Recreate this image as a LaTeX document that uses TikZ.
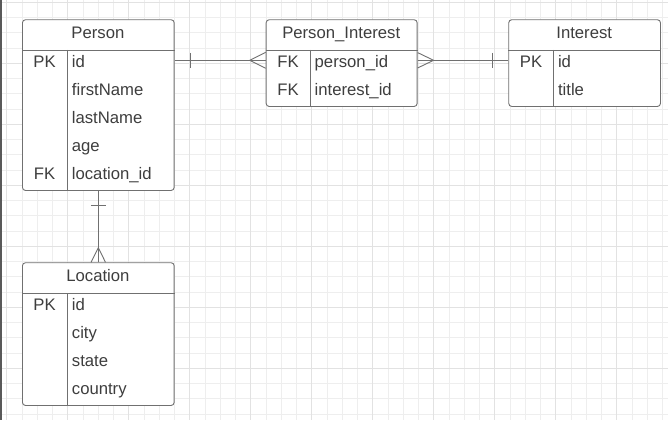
\documentclass[tikz,border=0pt]{standalone}
\usepackage{fontspec}
\setmainfont{Liberation Sans}
\usepackage{xcolor}
\usepackage{tikz}
\usetikzlibrary{calc}
\definecolor{gridminor}{RGB}{238,238,238}
\definecolor{gridmajor}{RGB}{226,226,226}
\definecolor{edge}{RGB}{112,112,112}
\definecolor{ink}{RGB}{62,62,62}

\begin{document}
\begin{tikzpicture}[x=1pt, y=-1pt, font=\fontsize{16.7}{20}\selectfont,
  tbl/.style={draw=edge, fill=white, rounded corners=3pt, line width=0.9pt, anchor=north west, inner sep=0pt},
  hd/.style={text=ink, anchor=mid, yshift=-1.5pt},
  key/.style={text=ink, anchor=mid, yshift=-1.5pt},
  fld/.style={text=ink, anchor=mid west, inner sep=0pt, yshift=-1.5pt},
  rel/.style={draw=edge, line width=0.9pt}]
\useasboundingbox[fill=white] (0,0) rectangle (668,420);
% grid paper
\foreach \k in {0,...,43} \draw[gridminor, line width=0.8pt] ({6.7+15.25*\k},0) -- ({6.7+15.25*\k},420);
\foreach \k in {0,...,27} \draw[gridminor, line width=0.8pt] (0,{2.3+15.25*\k}) -- (668,{2.3+15.25*\k});
\foreach \k in {0,4,...,40} \draw[gridmajor, line width=1pt] ({6.7+15.25*\k},0) -- ({6.7+15.25*\k},420);
\foreach \k in {0,4,...,24} \draw[gridmajor, line width=1pt] (0,{2.3+15.25*\k}) -- (668,{2.3+15.25*\k});
\draw[black!65, line width=1.5pt] (0.75,0) -- (0.75,420);

% tables
\node[tbl, minimum width=151.7pt, minimum height=170.7pt] (person) at (22,19.3) {};
\node[tbl, minimum width=151pt, minimum height=86.7pt] (pi) at (265.7,19.3) {};
\node[tbl, minimum width=151.7pt, minimum height=86.7pt] (interest) at (508.3,19.3) {};
\node[tbl, minimum width=151.7pt, minimum height=142.7pt] (location) at (22,262.3) {};
\foreach \t in {person, pi, interest, location} {
  \draw[rel] ([yshift=-30.7pt]\t.north west) -- ([yshift=-30.7pt]\t.north east);
  \draw[rel] ([xshift=45pt,yshift=-30.7pt]\t.north west) -- ([xshift=45pt]\t.south west);
}

% Person
\node[hd] (person-h) at (97.9,34) {Person};
\node[key] (p-pk) at (44.5,63.4) {PK};
\node[key] (p-fk) at (44.5,175.4) {FK};
\foreach \f [count=\i from 0] in {id, firstName, lastName, age, location\_id}
  \node[fld] (p-\i) at (71.7,{63.4+28*\i}) {\f};

% Person_Interest
\node[hd] (pi-h) at (341.2,34) {Person\_Interest};
\node[key] (pi-fk1) at (288,63.4) {FK};
\node[key] (pi-fk2) at (288,91.2) {FK};
\node[fld] (pi-0) at (314.5,63.4) {person\_id};
\node[fld] (pi-1) at (314.5,91.2) {interest\_id};

% Interest
\node[hd] (in-h) at (584.2,34) {Interest};
\node[key] (in-pk) at (531,63.4) {PK};
\node[fld] (in-0) at (557.8,63.4) {id};
\node[fld] (in-1) at (557.8,91.2) {title};

% Location
\node[hd] (loc-h) at (97.9,277.4) {Location};
\node[key] (l-pk) at (44.5,306.7) {PK};
\foreach \f [count=\i from 0] in {id, city, state, country}
  \node[fld] (l-\i) at (71.7,{306.7+28*\i}) {\f};

% relationships
\coordinate (r1a) at ([yshift=1.5pt]person.east |- p-pk);
\coordinate (r1b) at ([yshift=1.5pt]pi.west |- pi-fk1);
\draw[rel] (r1a) -- (r1b);
\draw[rel] ($(r1a)+(16.3,-7.5)$) -- ++(0,15);
\draw[rel] ($(r1b)+(0,-8)$) -- ++(-16,8) -- ++(16,8);

\coordinate (r2a) at ([yshift=1.5pt]pi.east |- pi-fk1);
\coordinate (r2b) at ([yshift=1.5pt]interest.west |- in-pk);
\draw[rel] (r2a) -- (r2b);
\draw[rel] ($(r2a)+(0,-7.7)$) -- ++(16,7.7) -- ++(-16,7.7);
\draw[rel] ($(r2b)+(-16,-7.5)$) -- ++(0,15);

\draw[rel] (person.south) -- (location.north);
\draw[rel] ($(person.south)+(-7.5,15)$) -- ++(15,0);
\draw[rel] ($(location.north)+(-7.2,0)$) -- ++(7.2,-14.6) -- ++(7.2,14.6);
\end{tikzpicture}
\end{document}
